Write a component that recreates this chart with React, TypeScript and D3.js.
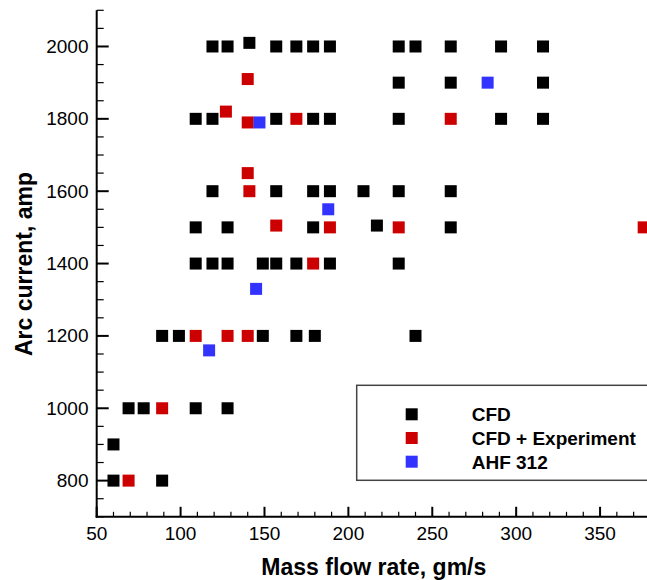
import React from "react";
import * as d3 from "d3";

const cfdPoints: [number, number][] = [
  [119, 2000], [128, 2000], [141, 2010], [157, 2000], [169, 2000], [179, 2000], [189, 2000],
  [230, 2000], [240, 2000], [261, 2000], [291, 2000], [316, 2000],
  [230, 1900], [261, 1900], [316, 1900],
  [109, 1800], [119, 1800], [157, 1800], [179, 1800], [189, 1800], [230, 1800], [291, 1800], [316, 1800],
  [119, 1600], [157, 1600], [179, 1600], [189, 1600], [209, 1600], [230, 1600], [261, 1600],
  [109, 1500], [128, 1500], [179, 1500], [217, 1505], [261, 1500],
  [109, 1400], [119, 1400], [128, 1400], [149, 1400], [157, 1400], [169, 1400], [189, 1400], [230, 1400],
  [89, 1200], [99, 1200], [149, 1200], [169, 1200], [180, 1200], [240, 1200],
  [69, 1000], [78, 1000], [109, 1000], [128, 1000],
  [60, 900],
  [60, 800], [89, 800],
];

const expPoints: [number, number][] = [
  [140, 1910], [127, 1820], [140, 1790], [169, 1800], [261, 1800], [140, 1650], [141, 1600],
  [157, 1505], [189, 1500], [230, 1500], [376, 1500], [179, 1400],
  [109, 1200], [128, 1200], [140, 1200], [89, 1000], [69, 800],
];

const ahfPoints: [number, number][] = [
  [147, 1790], [283, 1900], [188, 1550], [145, 1330], [117, 1160],
];

const seriesNames = ["CFD", "CFD + Experiment", "AHF 312"];
const seriesColors = ["#000000", "#cc0000", "#3333ff"];

const xMajorTicks = [50, 100, 150, 200, 250, 300, 350];
const yMajorTicks = [800, 1000, 1200, 1400, 1600, 1800, 2000];

const FONT = "'Liberation Sans', Arial, Helvetica, sans-serif";

export default function App() {
  const x = d3.scaleLinear().domain([50, 380]).range([96.7, 650.4]);
  const y = d3.scaleLinear().domain([700, 2100]).range([516.8, 10.3]);
  const x0 = x(50);
  const y0 = y(700);
  const xMinor = d3.range(50, 381, 10).filter((v) => v % 50 !== 0);
  const yMinor = d3.range(700, 2101, 50).filter((v) => v % 200 !== 0);
  const S = 12;
  const all = [cfdPoints, expPoints, ahfPoints];

  return (
    <svg
      width={647}
      height={580}
      style={{ position: "absolute", left: 0, top: 0, background: "#fff" }}
      fontFamily={FONT}
    >
      <rect x={0} y={0} width={647} height={580} fill="#fff" />
      {/* axes lines */}
      <line x1={x0} x2={x0} y1={y(2100)} y2={y0 + 1} stroke="#000" strokeWidth={2} />
      <line x1={x0 - 1} x2={660} y1={y0} y2={y0} stroke="#000" strokeWidth={2} />
      {/* y ticks */}
      {yMajorTicks.map((v) => (
        <g key={"ym" + v}>
          <line x1={x0} x2={x0 + 12} y1={y(v)} y2={y(v)} stroke="#000" strokeWidth={2} />
          <text x={88.5} y={y(v) + 6.5} fontSize={19} textAnchor="end" fill="#000">
            {v}
          </text>
        </g>
      ))}
      {yMinor.map((v) => (
        <line key={"yn" + v} x1={x0} x2={x0 + 7} y1={y(v)} y2={y(v)} stroke="#000" strokeWidth={1.2} />
      ))}
      {/* x ticks */}
      {xMajorTicks.map((v) => (
        <g key={"xm" + v}>
          <line x1={x(v)} x2={x(v)} y1={y0} y2={y0 - 10} stroke="#000" strokeWidth={2} />
          <text x={x(v)} y={539.5} fontSize={19} textAnchor="middle" fill="#000">
            {v}
          </text>
        </g>
      ))}
      {xMinor.map((v) => (
        <line key={"xn" + v} x1={x(v)} x2={x(v)} y1={y0} y2={y0 - 5} stroke="#000" strokeWidth={1.2} />
      ))}
      {/* axis titles */}
      <text x={373.8} y={574.5} fontSize={23} fontWeight="bold" textAnchor="middle" fill="#000">
        Mass flow rate, gm/s
      </text>
      <text
        transform={`translate(31.5,264) rotate(-90)`}
        fontSize={23}
        fontWeight="bold"
        textAnchor="middle"
        fill="#000"
      >
        Arc current, amp
      </text>
      {/* points */}
      {all.map((pts, si) =>
        pts.map(([px, py], i) => (
          <rect
            key={si + "-" + i}
            x={x(px) - S / 2}
            y={y(py) - S / 2}
            width={S}
            height={S}
            fill={seriesColors[si]}
          />
        ))
      )}
      {/* legend */}
      <rect x={356.7} y={385.3} width={310} height={95} fill="#fff" stroke="#444" strokeWidth={1.5} />
      {seriesNames.map((name, i) => (
        <g key={name}>
          <rect x={411.7 - S / 2} y={414.3 + i * 23.7 - S / 2} width={S} height={S} fill={seriesColors[i]} />
          <text x={471.7} y={420.5 + i * 24} fontSize={19} fontWeight="bold" fill="#000">
            {name}
          </text>
        </g>
      ))}
    </svg>
  );
}
